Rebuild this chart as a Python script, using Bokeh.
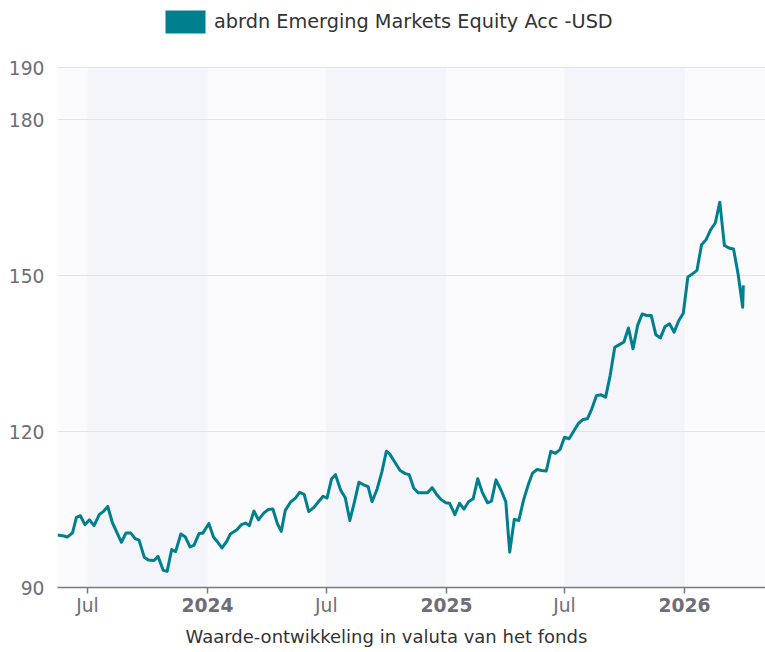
import pandas as pd
from bokeh.plotting import figure
from bokeh.models import (Range1d, FixedTicker, DatetimeTickFormatter, DatetimeAxis,
                          Legend, LegendItem, Title)
from bokeh.embed import file_html
from bokeh.resources import INLINE

# ---------------- data ----------------
series_name = "abrdn Emerging Markets Equity Acc -USD"
x_title = "Waarde-ontwikkeling in valuta van het fonds"

dates = [
    "2023-05-16", "2023-05-26", "2023-05-31", "2023-06-08", "2023-06-14", "2023-06-20",
    "2023-06-27", "2023-07-04", "2023-07-11", "2023-07-19", "2023-07-26", "2023-08-01",
    "2023-08-08", "2023-08-15", "2023-08-22", "2023-08-29", "2023-09-05", "2023-09-12",
    "2023-09-18", "2023-09-26", "2023-10-02", "2023-10-11", "2023-10-17", "2023-10-25",
    "2023-10-31", "2023-11-07", "2023-11-13", "2023-11-21", "2023-11-28", "2023-12-05",
    "2023-12-11", "2023-12-19", "2023-12-25", "2024-01-03", "2024-01-10", "2024-01-17",
    "2024-01-23", "2024-01-30", "2024-02-05", "2024-02-15", "2024-02-22", "2024-02-28",
    "2024-03-05", "2024-03-12", "2024-03-19", "2024-03-27", "2024-04-03", "2024-04-10",
    "2024-04-17", "2024-04-23", "2024-04-29", "2024-05-07", "2024-05-15", "2024-05-21",
    "2024-05-28", "2024-06-04", "2024-06-12", "2024-06-19", "2024-06-26", "2024-07-02",
    "2024-07-09", "2024-07-15", "2024-07-23", "2024-07-30", "2024-08-06", "2024-08-13",
    "2024-08-20", "2024-08-27", "2024-09-03", "2024-09-09", "2024-09-17", "2024-09-24",
    "2024-10-01", "2024-10-06", "2024-10-15", "2024-10-22", "2024-10-30", "2024-11-05",
    "2024-11-12", "2024-11-19", "2024-11-26", "2024-12-03", "2024-12-10", "2024-12-17",
    "2024-12-24", "2024-12-31", "2025-01-06", "2025-01-14", "2025-01-21", "2025-01-28",
    "2025-02-04", "2025-02-11", "2025-02-18", "2025-02-25", "2025-03-05", "2025-03-11",
    "2025-03-18", "2025-03-26", "2025-04-02", "2025-04-08", "2025-04-15", "2025-04-22",
    "2025-04-29", "2025-05-06", "2025-05-13", "2025-05-20", "2025-05-27", "2025-06-03",
    "2025-06-10", "2025-06-17", "2025-06-24", "2025-07-01", "2025-07-08", "2025-07-15",
    "2025-07-22", "2025-07-29", "2025-08-05", "2025-08-12", "2025-08-19", "2025-08-26",
    "2025-09-02", "2025-09-09", "2025-09-16", "2025-09-23", "2025-09-30", "2025-10-07",
    "2025-10-14", "2025-10-21", "2025-10-28", "2025-11-04", "2025-11-11", "2025-11-18",
    "2025-11-25", "2025-12-02", "2025-12-09", "2025-12-16", "2025-12-23", "2025-12-30",
    "2026-01-06", "2026-01-13", "2026-01-20", "2026-01-27", "2026-02-03", "2026-02-10",
    "2026-02-17", "2026-02-24", "2026-03-03", "2026-03-10", "2026-03-17", "2026-03-24",
    "2026-03-31", "2026-04-01",
]

values = [
    100.1, 99.9, 99.7, 100.5, 103.5, 103.8,
    102.1, 103.0, 101.9, 104.0, 104.7, 105.6,
    102.5, 100.6, 98.7, 100.5, 100.5, 99.4,
    99.1, 95.8, 95.3, 95.2, 96.0, 93.3,
    93.1, 97.3, 96.9, 100.3, 99.7, 97.8,
    98.1, 100.4, 100.5, 102.3, 99.7, 98.65,
    97.6, 98.8, 100.3, 101.1, 102.1, 102.4,
    101.9, 104.7, 103.0, 104.3, 105.0, 105.1,
    102.25, 100.8, 104.8, 106.4, 107.25, 108.3,
    107.9, 104.6, 105.4, 106.5, 107.55, 107.2,
    110.9, 111.7, 108.7, 107.25, 102.9, 106.4,
    110.25, 109.75, 109.4, 106.5, 109.0, 112.2,
    116.2, 115.7, 113.9, 112.5, 111.9, 111.7,
    109.1, 108.2, 108.2, 108.2, 109.2, 107.9,
    106.9, 106.3, 106.2, 104.0, 106.2, 105.1,
    106.5, 107.05, 110.9, 108.3, 106.3, 106.6,
    110.7, 108.65, 106.5, 96.8, 103.1, 102.9,
    106.7, 109.6, 112.0, 112.7, 112.5, 112.4,
    116.2, 115.8, 116.5, 118.9, 118.6, 120.05,
    121.5, 122.3, 122.45, 124.4, 126.9, 127.05,
    126.6, 130.8, 136.2, 136.7, 137.2, 139.9,
    135.9, 140.4, 142.6, 142.3, 142.3, 138.6,
    138.0, 140.2, 140.7, 139.1, 141.3, 142.75,
    149.7, 150.3, 151.0, 155.9, 156.9, 158.8,
    160.1, 164.1, 155.8, 155.3, 155.1, 150.3,
    143.9, 148.1,
]

tick_dates = ["2023-07-01", "2024-01-01", "2024-07-01", "2025-01-01", "2025-07-01", "2026-01-01"]
tick_labels = ["Jul", "2024", "Jul", "2025", "Jul", "2026"]
y_ticks = [90, 120, 150, 180, 190]
band_starts = ["2023-07-01", "2024-07-01", "2025-07-01"]
band_ends = ["2024-01-01", "2025-01-01", "2026-01-01"]
x_start, x_end = "2023-05-16", "2026-05-05"
y_min, y_max = 90, 190

# ---------------- layout / style ----------------
W, H = 765, 652
PLOT_LEFT, PLOT_TOP, PLOT_BOTTOM = 57, 67, 587      # pixel edges of the plotting area
TEAL = "#007f8e"
FONT = "DejaVu Sans"
TICK_COLOR = "#6e6e78"
AXIS_COLOR = "#7a7a84"

# the frame reaches up to the top of the canvas so the legend can sit above the 190 line
y_hi = y_min + (y_max - y_min) * PLOT_BOTTOM / (PLOT_BOTTOM - PLOT_TOP)

def ms(d):
    return float(pd.Timestamp(d).value // 10**6)

p = figure(width=W, height=H, x_axis_type="datetime",
           x_range=Range1d(pd.Timestamp(x_start), pd.Timestamp(x_end)),
           y_range=Range1d(y_min, y_hi),
           output_backend="svg", toolbar_location=None,
           min_border_left=PLOT_LEFT, min_border_right=0, min_border_top=0,
           min_border_bottom=H - PLOT_BOTTOM)
p.outline_line_color = None
p.background_fill_color = "white"
p.border_fill_color = "white"

# plot-area background and alternating half-year bands
p.quad(left=[pd.Timestamp(x_start)], right=[pd.Timestamp(x_end)], bottom=[y_min], top=[y_max],
       fill_color="#fbfbfd", line_color=None, level="image")
p.quad(left=pd.to_datetime(band_starts), right=pd.to_datetime(band_ends),
       bottom=y_min, top=y_max, fill_color="#f4f5fa", line_color=None, level="image")

# grid
p.xgrid.visible = False
p.ygrid.ticker = FixedTicker(ticks=y_ticks)
p.ygrid.grid_line_color = "#dfe3ef"
p.ygrid.grid_line_width = 1

# line
p.line(x=pd.to_datetime(dates), y=values, line_color=TEAL, line_width=3, line_join="round")

# y axis
yax = p.yaxis[0]
yax.ticker = FixedTicker(ticks=y_ticks)
yax.axis_line_color = None
yax.major_tick_line_color = None
yax.major_tick_out = 0
yax.minor_tick_line_color = None
yax.major_label_standoff = 13
yax.major_label_text_font = FONT
yax.major_label_text_font_size = "18.7px"
yax.major_label_text_color = TICK_COLOR

# main x axis: line + half-year ticks, bold year labels
xax = p.xaxis[0]
tick_ms = [ms(d) for d in tick_dates]
xax.ticker = FixedTicker(ticks=tick_ms)
xax.formatter = DatetimeTickFormatter(months="%b", years="%Y")
xax.major_label_overrides = {t: ("" if lab == "Jul" else lab) for t, lab in zip(tick_ms, tick_labels)}
xax.minor_tick_line_color = None
xax.axis_line_color = AXIS_COLOR
xax.axis_line_width = 1.5
xax.major_tick_line_color = AXIS_COLOR
xax.major_tick_line_width = 1.5
xax.major_tick_in = 0
xax.major_tick_out = 6
xax.major_label_standoff = 4
xax.major_label_text_font = FONT
xax.major_label_text_font_size = "18.7px"
xax.major_label_text_font_style = "bold"
xax.major_label_text_color = TICK_COLOR

# second x axis carrying the normal-weight "Jul" labels, pulled up into the same row
jul_ms = [t for t, lab in zip(tick_ms, tick_labels) if lab == "Jul"]
jul_axis = DatetimeAxis(ticker=FixedTicker(ticks=jul_ms),
                        formatter=DatetimeTickFormatter(months="%b", years="%b", days="%b"),
                        major_label_overrides={t: "Jul" for t in jul_ms},
                        axis_line_color=None, major_tick_line_color=None, minor_tick_line_color=None,
                        major_tick_in=0, major_tick_out=0, major_label_standoff=-20,
                        major_label_text_font=FONT, major_label_text_font_size="18.7px",
                        major_label_text_color=TICK_COLOR)
p.add_layout(jul_axis, "below")

# x-axis title
p.add_layout(Title(text=x_title, align="left", offset=128, text_font=FONT,
                   text_font_size="18px", text_font_style="normal", text_color="#333333",
                   standoff=11), "below")

# legend with a square swatch (hidden quad supplies the swatch style)
sw = p.quad(left=[pd.Timestamp(dates[-1])], right=[pd.Timestamp(dates[-1])],
            bottom=[values[-1]], top=[values[-1]], fill_color=TEAL, line_color=None, visible=False)
legend = Legend(items=[LegendItem(label=series_name, renderers=[sw])],
                location=(103, PLOT_BOTTOM - 36), orientation="horizontal",
                glyph_width=50, glyph_height=29, label_standoff=4,
                padding=0, margin=0, border_line_color=None, background_fill_alpha=0,
                inactive_fill_alpha=0, click_policy="none",
                label_text_font=FONT, label_text_font_size="19.3px", label_text_color="#333333")
p.add_layout(legend)

open("out.html", "w").write(file_html(p, INLINE))
